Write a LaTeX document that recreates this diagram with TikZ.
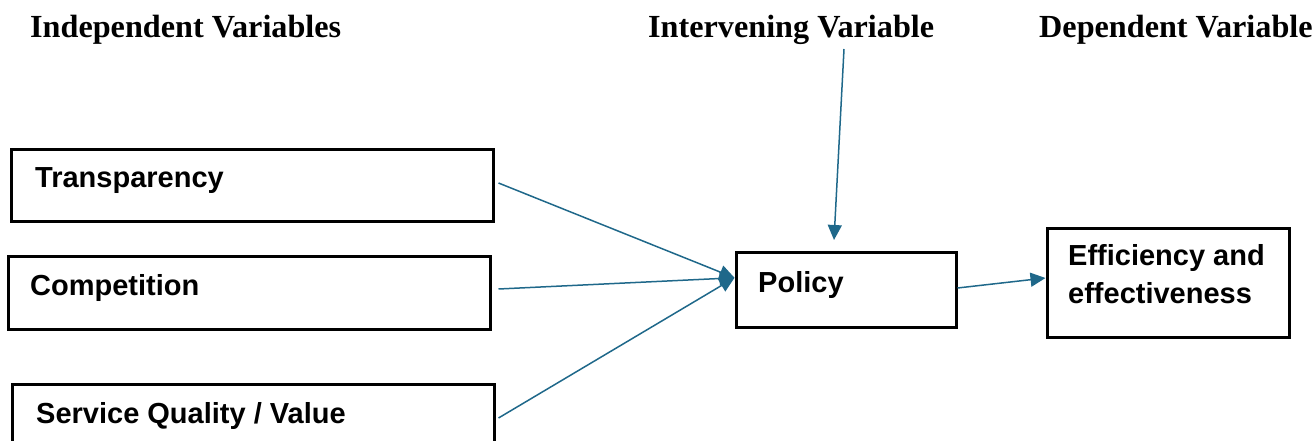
\documentclass[tikz,border=0pt]{standalone}
\usepackage{fontspec}
\setmainfont{Liberation Serif}
\newfontfamily\boxfont{Liberation Sans}
\usetikzlibrary{arrows.meta,calc}
\definecolor{arrowblue}{RGB}{31,104,138}
\begin{document}
\begin{tikzpicture}[x=1pt,y=-1pt,
  box/.style={draw=black,line width=3pt,rectangle,inner sep=0pt},
  boxtext/.style={anchor=base west,inner sep=0pt,font=\boxfont\fontsize{29}{34}\selectfont\bfseries},
  header/.style={anchor=base west,inner sep=0pt,font=\fontsize{32.2}{37}\selectfont\bfseries},
  conn/.style={draw=arrowblue,line width=1.5pt,-{Triangle[length=15pt,width=14pt]}}]
\useasboundingbox (0,0) rectangle (1314,441);
\clip (0,0) rectangle (1314,441);
% headers
\node[header] (hind) at (30,38) {Independent Variables};
\node[header] (hint) at (648,38) {Intervening Variable};
\node[header] (hdep) at (1039,38) {Dependent Variable};
% boxes
\node[box,minimum width=482pt,minimum height=72pt] (tr) at (252,185) {};
\node[box,minimum width=482pt,minimum height=73pt] (co) at (249,292.5) {};
\node[box,minimum width=482pt,minimum height=66pt] (sq) at (253,417) {};
\node[box,minimum width=220pt,minimum height=75pt] (po) at (846,289.5) {};
\node[box,minimum width=242pt,minimum height=109pt] (ef) at (1168,282.5) {};
% texts
\node[boxtext] (ttr) at (35,187) {Transparency};
\node[boxtext] (tco) at (30,295) {Competition};
\node[boxtext] (tsq) at (36,423) {Service Quality / Value};
\node[boxtext] (tpo) at (758,292) {Policy};
\node[boxtext] (tef1) at (1068,265) {Efficiency and};
\node[boxtext] (tef2) at (1068,303) {effectiveness};
% connectors
\coordinate (pin) at ($(po.north west)!0.35!(po.south west)$);
\coordinate (istart) at (844,49);
\coordinate (iend) at (834,240);
\draw[conn] ([xshift=4pt,yshift=2pt]tr.east) -- (pin);
\draw[conn] ([xshift=7pt,yshift=3.5pt]co.east) -- (pin);
\draw[conn] ([xshift=3pt,yshift=-1pt]sq.east) -- (pin);
\draw[conn] (istart) -- (iend);
\draw[conn] ([yshift=1.5pt]po.east) -- ([yshift=4.5pt]ef.west);
\end{tikzpicture}
\end{document}
